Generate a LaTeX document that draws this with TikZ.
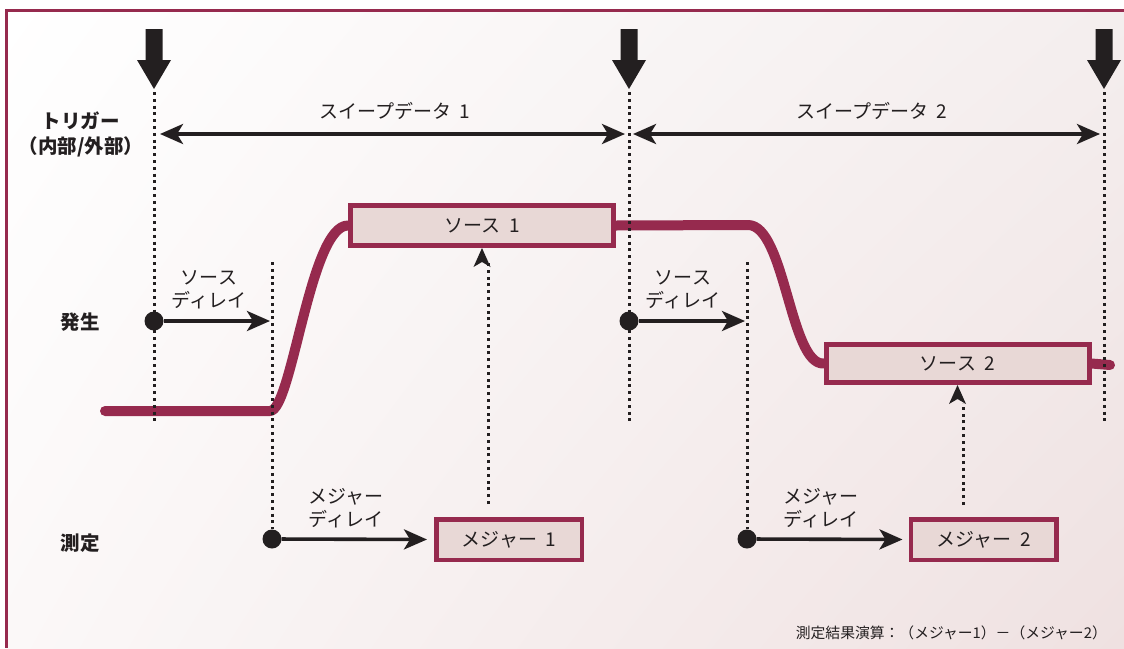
\documentclass[tikz,border=0pt]{standalone}
\usepackage{fontspec}
\setmainfont{Noto Sans CJK JP}
\usetikzlibrary{arrows.meta,shadings}
\definecolor{maroon}{RGB}{150,42,78}
\definecolor{boxfill}{RGB}{232,216,214}
\definecolor{ink}{RGB}{35,31,32}
\definecolor{bgUR}{RGB}{244,238,238}
\definecolor{bgLL}{RGB}{251,248,248}
\definecolor{bgLR}{RGB}{239,225,225}
\pgfdeclarelayer{bglayer}
\pgfdeclarelayer{midlayer}
\pgfsetlayers{bglayer,midlayer,main}
\newcommand{\gap}{\hspace{0.45em}}
\tikzset{
  lbl/.style={text=ink, font=\fontsize{19}{23.5}\selectfont, inner sep=0pt, align=center},
  side/.style={text=ink, font=\bfseries\fontsize{19.5}{25}\selectfont, inner sep=0pt, align=center},
  srcbox/.style={draw=maroon, line width=5pt, fill=boxfill, minimum width=263pt, minimum height=40pt, inner sep=0pt, text=ink, font=\fontsize{19}{23}\selectfont},
  measbox/.style={draw=maroon, line width=4.5pt, fill=boxfill, minimum width=145.5pt, minimum height=40.5pt, inner sep=0pt, text=ink, font=\fontsize{19}{23}\selectfont},
  dotnode/.style={circle, fill=ink, minimum size=19pt, inner sep=0pt},
  guide/.style={ink, line width=3pt, dash pattern=on 3pt off 3.8pt},
  delayarrow/.style={ink, line width=3.6pt, -{Stealth[length=23pt, width=20pt, inset=6pt]}},
  sweeparrow/.style={ink, line width=3.6pt, {Stealth[length=23pt, width=20pt, inset=6pt]}-{Stealth[length=23pt, width=20pt, inset=6pt]}},
  uphead/.style={fill=ink},
  wave/.style={maroon, line width=10pt, line cap=round, line join=round},
  trig/.style={fill=ink}
}
\begin{document}
\begin{tikzpicture}[x=1pt, y=-1pt]
\useasboundingbox (0,0) rectangle (1124,648);
% background
\begin{pgfonlayer}{bglayer}
\fill[white] (0,0) rectangle (1124,648);
\shade[upper left=white, upper right=bgUR, lower left=bgLL, lower right=bgLR] (6,10) rectangle (1124,648);
\draw[maroon, line width=3pt] (6.5,648) |- (1124,10.5);
\end{pgfonlayer}

% trigger arrows
\foreach \x/\n in {154/1, 629/2, 1104/3} {
  \fill[trig] (\x-8.5,29) -- (\x+8.5,29) -- (\x+8.5,60) -- (\x+17,60) -- (\x,89) -- (\x-17,60) -- (\x-8.5,60) -- cycle;
  \coordinate (top\n) at (\x,92);
  \coordinate (bot\n) at (\x,422);
  \coordinate (sw\n) at (\x,134);
}
\draw[guide] (top1) -- (bot1);
\draw[guide] (top2) -- (bot2);
\draw[guide] (top3) -- (bot3);

% sweep arrows
\draw[sweeparrow, shorten <=6pt, shorten >=4pt] (sw1) -- (sw2);
\draw[sweeparrow, shorten <=4pt, shorten >=4pt] (sw2) -- (sw3);
\node[lbl] (sweep1) at (395,111) {スイープデータ\gap 1};
\node[lbl] (sweep2) at (872,111) {スイープデータ\gap 2};

% side labels
\node[side] (trig) at (81,134) {トリガー\\（内部/外部）};
\node[side] (gen) at (80,322) {発生};
\node[side] (meas) at (80,543) {測定};

% source boxes and waveform
\node[srcbox] (src1) at (482,225.5) {ソース\gap 1};
\node[srcbox, minimum height=38pt] (src2) at (957.5,363.5) {ソース\gap 2};
\coordinate (w0) at (105,411);
\coordinate (w1) at (270,411);
\coordinate (w2) at (748,225);
\coordinate (w3) at (1110,365);
\begin{pgfonlayer}{midlayer}
\draw[wave] (w0) -- (w1) .. controls (292,411) and (310,225) .. (src1.west);
\draw[wave] (src1.east) -- (w2) .. controls (785,225) and (790,365) .. (src2.west);
\draw[wave] (src2.east) -- (w3);
\end{pgfonlayer}

% delay guides
\coordinate (g1t) at (272,262);
\coordinate (g2t) at (747,262);
\node[dotnode] (sd1) at (154,321) {};
\node[dotnode] (sd2) at (629,321) {};
\node[dotnode] (md1) at (272,539) {};
\node[dotnode] (md2) at (747,539) {};
\begin{pgfonlayer}{midlayer}
\draw[guide] (g1t) -- (md1);
\draw[guide] (g2t) -- (md2);
\end{pgfonlayer}
\coordinate (sd1e) at (270,321);
\coordinate (sd2e) at (745,321);
\draw[delayarrow] (sd1) -- (sd1e);
\draw[delayarrow] (sd2) -- (sd2e);
\node[lbl] (sdl1) at (209,290) {ソース\\ディレイ};
\node[lbl] (sdl2) at (683,290) {ソース\\ディレイ};

% measure boxes
\node[measbox] (m1) at (509,539.5) {メジャー\gap 1};
\node[measbox] (m2) at (983.5,539.5) {メジャー\gap 2};
\draw[delayarrow, shorten >=7pt] (md1) -- (m1.west);
\draw[delayarrow, shorten >=6pt] (md2) -- (m2.west);
\node[lbl] (mdl1) at (346,508) {メジャー\\ディレイ};
\node[lbl] (mdl2) at (821,508) {メジャー\\ディレイ};

% upward dotted arrows
\coordinate (u1) at (488,504);
\coordinate (u2) at (963,505);
\coordinate (u1h) at (488,263);
\coordinate (u2h) at (963,403);
\draw[guide] (u1) -- (u1h);
\draw[guide] (u2) -- (u2h);
\fill[uphead] (src1.south) -- ++(8.5,19) -- ++(-8.5,-5) -- ++(-8.5,5) -- cycle;
\fill[uphead] (src2.south) -- ++(8.5,19) -- ++(-8.5,-5) -- ++(-8.5,5) -- cycle;

% footer
\node[text=ink, font=\fontsize{14.8}{17}\selectfont, anchor=east, inner sep=0pt] (note) at (1107,633) {測定結果演算：（メジャー1）－（メジャー2）};
\end{tikzpicture}
\end{document}
